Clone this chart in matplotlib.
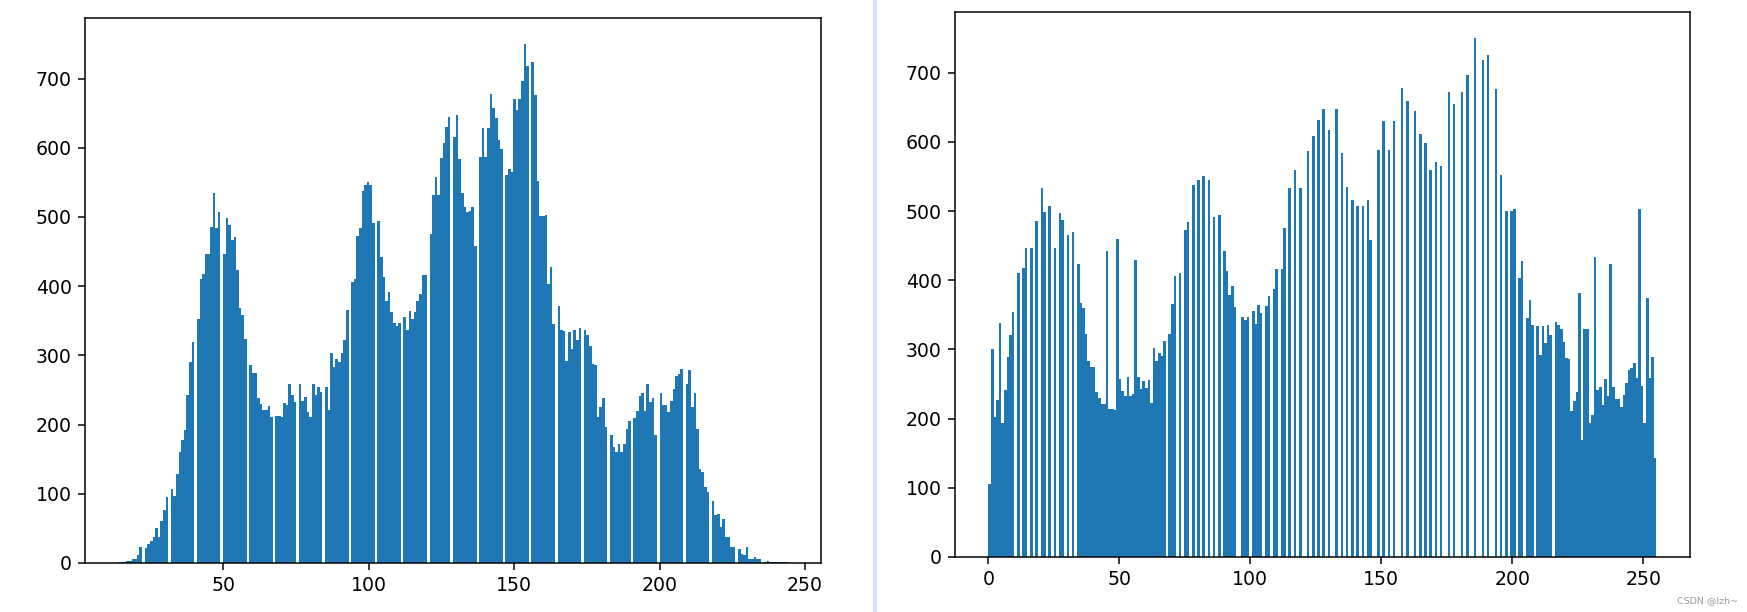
import numpy as np
import matplotlib
matplotlib.use("Agg")
import matplotlib.pyplot as plt
from matplotlib.lines import Line2D

# original image: pixel counts per gray level 14..244
left_levels = np.arange(14, 245)
left_counts = [
    1, 1, 2, 3, 3, 6, 6, 12, 23,
    21, 28, 32, 38, 51, 38, 61, 76, 95,
    107, 97, 128, 160, 177, 192, 243, 290, 319,
    353, 411, 418, 446, 446, 485, 534, 484, 507,
    447, 499, 488, 466, 471, 423, 369, 359, 324,
    286, 274, 274, 239, 230, 221, 221, 227, 211,
    213, 213, 211, 231, 228, 258, 243, 233,
    259, 234, 240, 218, 211, 259, 243, 255, 247,
    255, 221, 303, 283, 295, 290, 304, 322, 366,
    406, 411, 473, 484, 537, 546, 551, 546, 491,
    494, 442, 413, 379, 392, 362, 347, 343, 347,
    355, 336, 364, 353, 363, 378, 388, 416, 416,
    475, 532, 558, 532, 585, 607, 630, 645,
    615, 647, 584, 534, 514, 507, 508, 514, 458,
    587, 628, 587, 628, 678, 657, 643, 611, 598,
    560, 570, 565, 671, 655, 671, 697, 750, 718,
    724, 676, 552, 501, 501, 503, 403, 428, 345,
    372, 336, 335, 292, 334, 309, 336, 322, 339,
    336, 329, 313, 287, 286, 211, 226, 238, 196,
    185, 168, 160, 172, 160, 172, 194, 205,
    209, 220, 242, 245, 220, 258, 232, 239, 185,
    245, 228, 228, 218, 234, 251, 270, 273, 281,
    258, 279, 226, 246, 194, 136, 131, 110, 102,
    89, 69, 71, 52, 64, 38, 38, 23, 23,
    20, 13, 11, 23, 6, 6, 9, 6, 6,
    2, 3, 2, 1, 1, 2, 1, 2, 1,
]

# equalized image: pixel counts per gray level 0..255
right_levels = np.arange(256)
right_counts = [
    106, 300, 203, 227, 338, 193, 242, 289, 321, 354, 0, 411, 0, 418, 446, 0,
    446, 0, 485, 0, 534, 499, 0, 507, 0, 446, 0, 497, 487, 0, 466, 0,
    470, 0, 424, 367, 360, 323, 284, 274, 274, 238, 230, 221, 221, 442, 214, 214,
    213, 460, 257, 240, 232, 260, 232, 236, 430, 260, 243, 254, 244, 256, 222, 302,
    283, 295, 290, 312, 0, 322, 366, 406, 0, 411, 0, 473, 484, 0, 537, 0,
    545, 0, 551, 0, 545, 0, 491, 0, 494, 0, 442, 413, 379, 392, 362, 0,
    0, 347, 343, 347, 0, 355, 337, 364, 353, 0, 363, 377, 0, 388, 416, 0,
    416, 475, 0, 534, 0, 559, 0, 534, 0, 0, 587, 0, 608, 0, 631, 0,
    647, 0, 617, 0, 0, 648, 0, 584, 0, 535, 0, 516, 0, 508, 0, 508,
    0, 516, 458, 0, 0, 589, 0, 630, 0, 589, 0, 630, 0, 0, 678, 0,
    659, 0, 0, 644, 0, 612, 0, 599, 0, 560, 0, 571, 0, 565, 0, 0,
    672, 0, 655, 0, 0, 672, 0, 697, 0, 0, 750, 0, 0, 719, 0, 725,
    0, 0, 676, 0, 552, 0, 500, 0, 500, 503, 0, 403, 428, 0, 345, 372,
    336, 0, 334, 292, 334, 309, 336, 321, 0, 339, 336, 330, 311, 287, 286, 211,
    226, 239, 381, 169, 330, 330, 194, 205, 433, 242, 245, 220, 257, 232, 424, 245,
    228, 228, 217, 234, 251, 270, 273, 280, 258, 503, 247, 193, 374, 259, 289, 143,
]

dpi = 136
fig = plt.figure(figsize=(1747 / dpi, 612 / dpi), dpi=dpi)

# left: histogram of the original image
ax1 = fig.add_axes([0.0487, 0.0801, 0.4213, 0.8905])
ax1.hist(left_levels, bins=256, weights=left_counts)

# right: histogram after equalization
ax2 = fig.add_axes([0.5466, 0.0899, 0.4207, 0.8902])
ax2.hist(right_levels, bins=256, weights=right_counts)

# divider between the two notebook outputs
fig.add_artist(Line2D([0.5009, 0.5009], [0, 1], transform=fig.transFigure,
                      color="#cfe3f6", lw=2.2))

fig.text(0.995, 0.012, "CSDN @lzh~", ha="right", va="bottom",
         fontsize=5, color="#9a9a9a")

fig.savefig("out.png", dpi=dpi)
